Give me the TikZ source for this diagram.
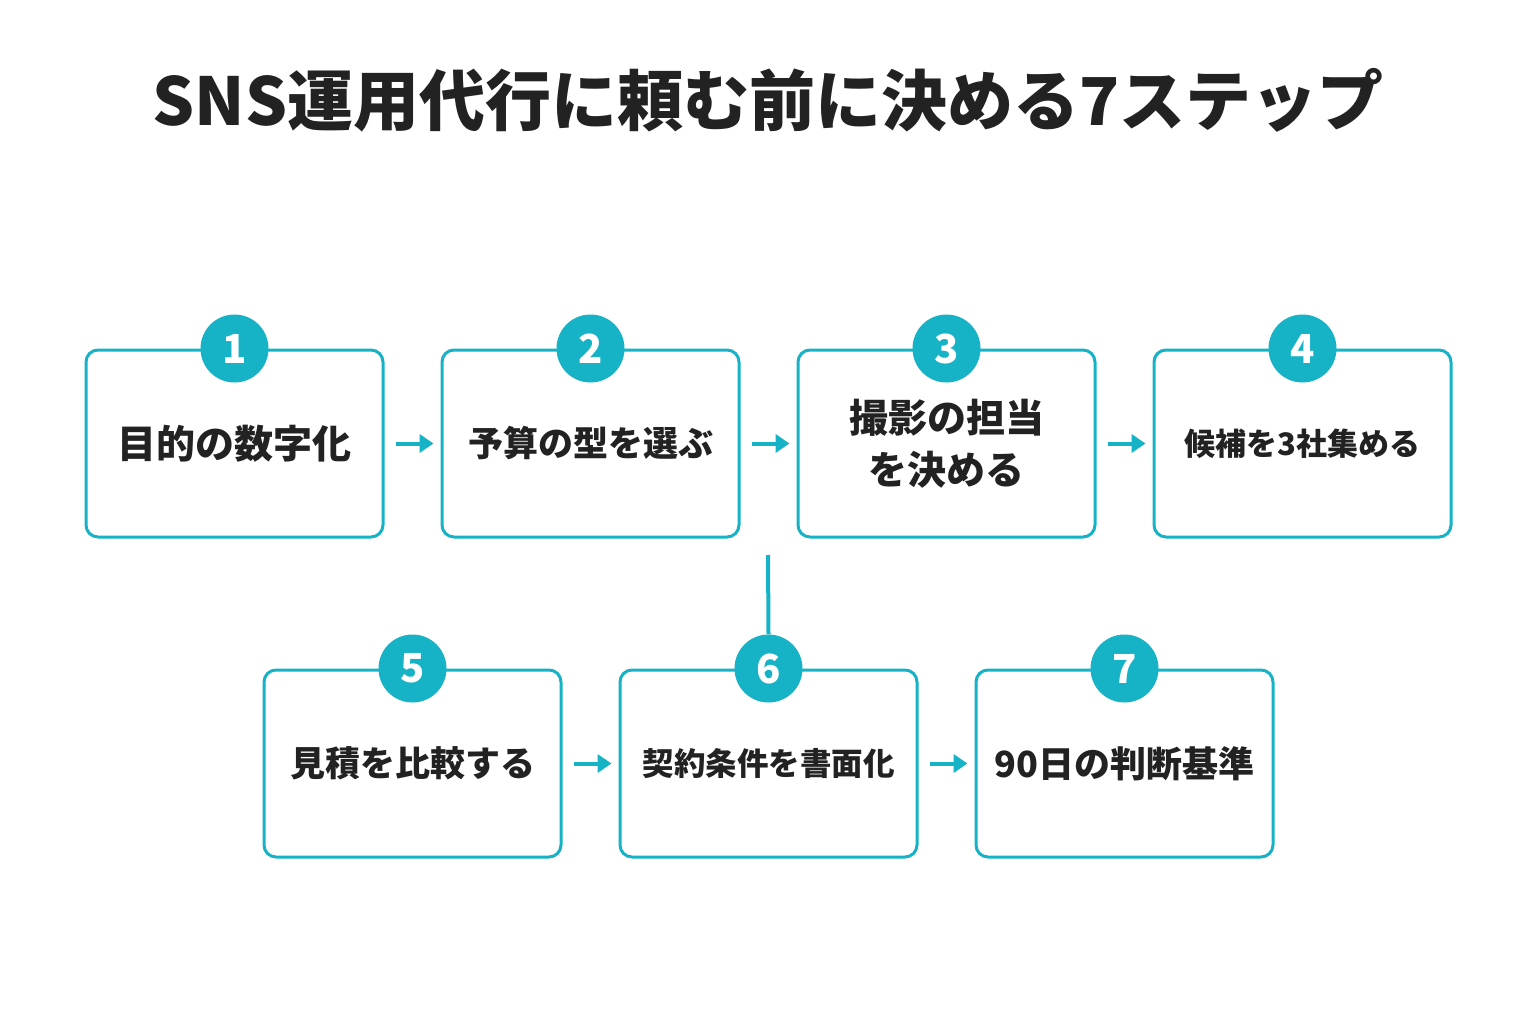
\documentclass[tikz,border=0pt]{standalone}
\usepackage{fontspec}
\setmainfont{Noto Sans CJK JP}
\usetikzlibrary{arrows.meta}
\definecolor{teal}{HTML}{16B3C6}
\definecolor{ink}{HTML}{222222}
\begin{document}
\begin{tikzpicture}[x=1pt,y=-1pt,
 box/.style={draw=teal,line width=3pt,rounded corners=12pt,minimum width=297pt,minimum height=187pt,inner sep=0pt,text=ink,font=\bfseries,align=center},
 num/.style={circle,fill=teal,minimum size=68pt,inner sep=0pt,text=white,font=\bfseries\fontsize{40}{40}\selectfont},
 arr/.style={draw=teal,line width=4pt,-{Triangle[length=14pt,width=18pt]}},
 link/.style={draw=teal,line width=4pt}]
\useasboundingbox (0,0) rectangle (1536,1024);
\node[text=ink,font=\bfseries\fontsize{66}{70}\selectfont] (title) at (768,100) {SNS運用代行に頼む前に決める7ステップ};
\node[box,font=\bfseries\fontsize{39}{46}\selectfont] (b1) at (234.5,443.5) {目的の数字化};
\node[box,font=\bfseries\fontsize{35}{44}\selectfont] (b2) at (590.5,443.5) {予算の型を選ぶ};
\node[box,font=\bfseries\fontsize{39}{52}\selectfont] (b3) at (946.5,443.5) {撮影の担当\\を決める};
\node[box,font=\bfseries\fontsize{31}{40}\selectfont] (b4) at (1302.5,443.5) {候補を3社集める};
\node[box,font=\bfseries\fontsize{35}{44}\selectfont] (b5) at (412.5,763.5) {見積を比較する};
\node[box,font=\bfseries\fontsize{31.5}{40}\selectfont] (b6) at (768.5,763.5) {契約条件を書面化};
\node[box,font=\bfseries\fontsize{36}{44}\selectfont] (b7) at (1124.5,763.5) {90日の判断基準};
\foreach \i in {1,...,7} {\node[num] (n\i) at (b\i.north) {\i};}
\coordinate (a1s) at (395,443); \coordinate (a1e) at (432,443);
\draw[arr] (b1.east) ++(11,0) -- ++(38,0);
\draw[arr] (b2.east) ++(11,0) -- ++(38,0);
\draw[arr] (b3.east) ++(11,0) -- ++(38,0);
\draw[arr] (b5.east) ++(11,0) -- ++(38,0);
\draw[arr] (b6.east) ++(11,0) -- ++(38,0);
\coordinate (vtop) at (768,555);
\draw[link] (vtop) -- (n6.north);
\end{tikzpicture}
\end{document}
